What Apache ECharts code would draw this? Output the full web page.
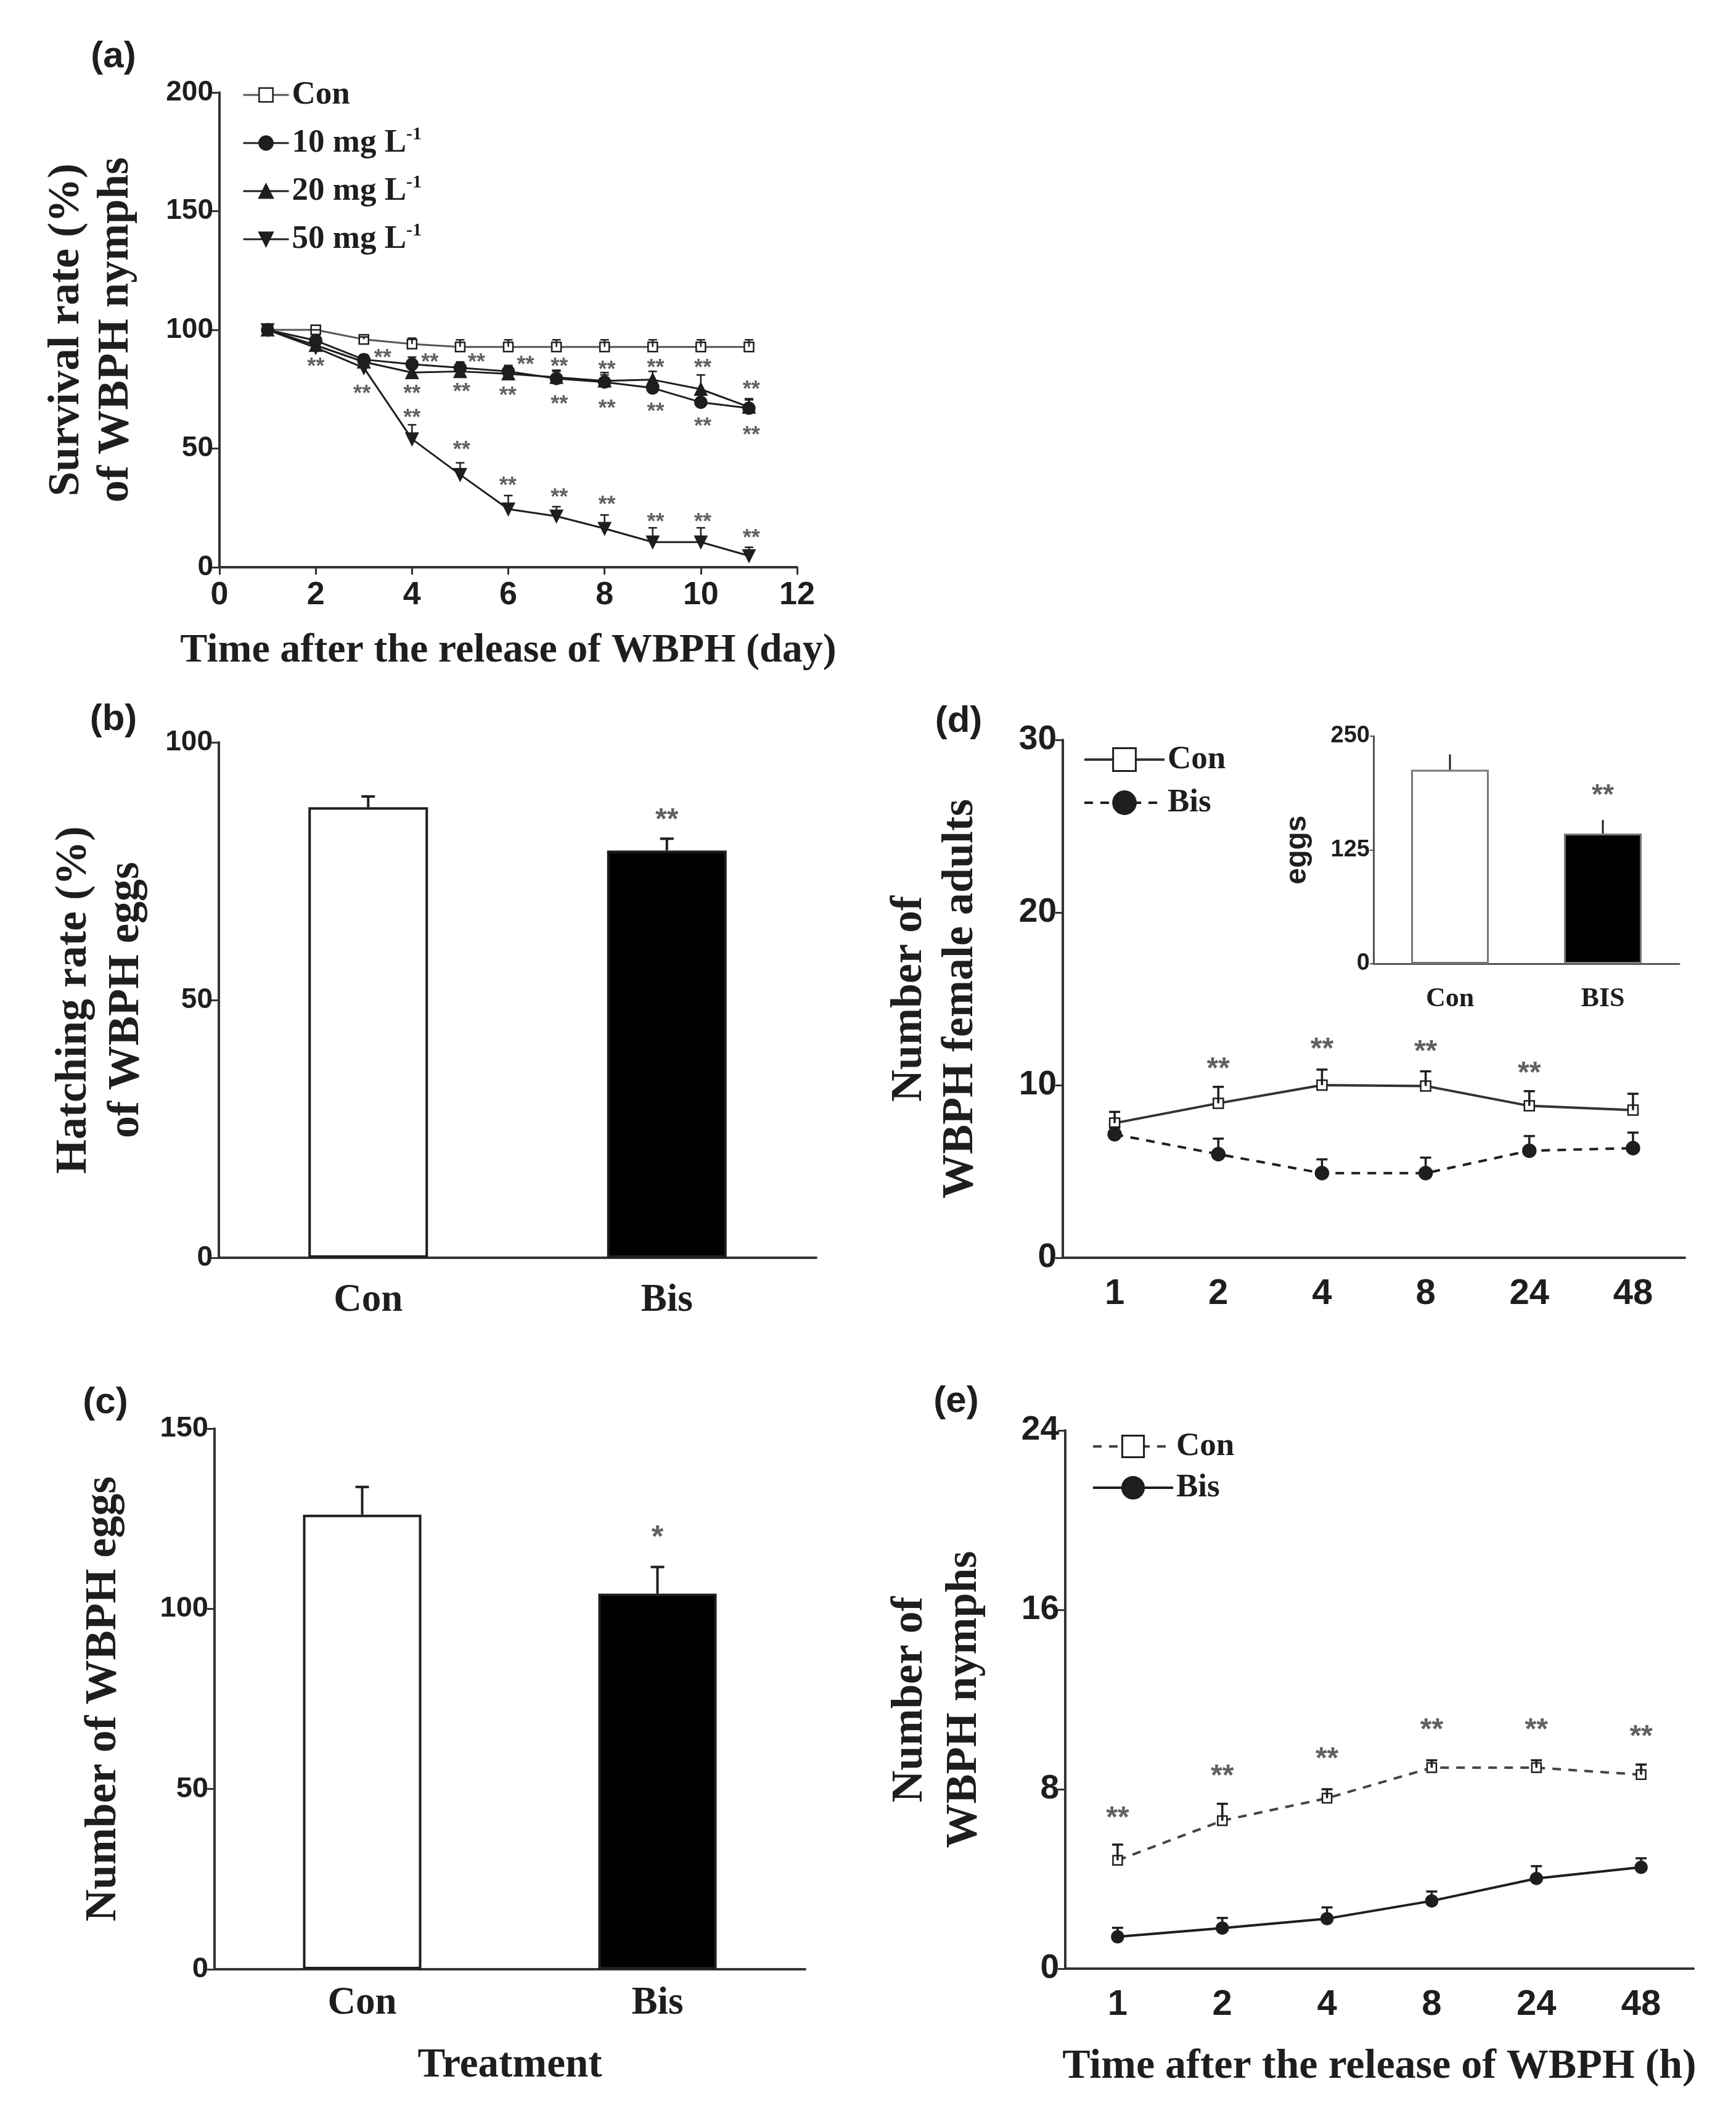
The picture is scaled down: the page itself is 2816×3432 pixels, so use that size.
<!DOCTYPE html>
<html>
<head>
<meta charset="utf-8">
<title>WBPH figure</title>
<script src="https://cdn.jsdelivr.net/npm/echarts@6.0.0/dist/echarts.min.js"></script>
<style>
  html, body { margin: 0; padding: 0; background: #fff; }
  #main { width: 2816px; height: 3432px; }
</style>
</head>
<body>
<div id="main"></div>
<script>
// ---- (a) survival of nymphs, by day
var days = [1, 2, 3, 4, 5, 6, 7, 8, 9, 10, 11];
var survNames = ['Con', '10 mg L', '20 mg L', '50 mg L'];
var survCon = [100, 100, 96, 94, 92.8, 92.8, 92.8, 92.8, 92.8, 92.8, 92.8];
var survConErr = [0, 0, 1, 2.5, 3, 3, 3, 3, 3, 3, 3];
var surv10 = [100, 95.5, 87.5, 85.5, 84, 82.5, 79.5, 78, 75.5, 69.5, 67];
var surv10Err = [0, 2, 2, 3, 2.5, 2.5, 3, 3, 3, 3, 3.5];
var surv20 = [100, 93.5, 86.5, 82, 82.5, 81.5, 80, 78.5, 79, 75, 67.5];
var surv20Err = [0, 2, 3, 3, 3, 3, 3, 3.5, 3.5, 6, 3.5];
var surv50 = [100, 92.5, 84, 54, 39, 24.5, 21.5, 16.3, 10.6, 10.6, 4.8];
var surv50Err = [0, 2, 3, 6, 5, 5.7, 4, 5.7, 6, 6, 3.6];
var survStars = [[2, 86.2], [3.39, 89.7], [2.96, 74.8], [4.37, 88], [4, 74.8], [4, 64.6],
  [5.34, 88], [5.03, 75.6], [5.03, 51], [6.36, 87.1], [5.99, 73.9], [5.99, 36.1],
  [7.06, 86.2], [7.06, 70.4], [7.06, 31.2], [8.05, 84.9], [8.05, 68.6], [8.05, 28.1],
  [9.06, 85.8], [9.06, 67.3], [9.06, 20.7], [10.04, 85.8], [10.04, 61.1], [10.04, 20.7],
  [11.05, 76.5], [11.05, 57.3], [11.05, 14.1]];

// ---- (b) hatching rate
var treatCats = ['Con', 'Bis'];
var hatchRate = [87.4, 79.0];
var hatchErr = [2.1, 2.3];
var hatchStar = [[1, 86.1]];

// ---- (c) eggs
var eggCount = [126.1, 104.2];
var eggErr = [7.7, 7.4];
var eggStar = [[1, 121.4]];

// ---- (d) female adults + inset eggs
var hours = ['1', '2', '4', '8', '24', '48'];
var adultCon = [7.8, 8.95, 10.0, 9.95, 8.8, 8.55];
var adultConErr = [0.65, 0.95, 0.9, 0.85, 0.85, 0.95];
var adultBis = [7.15, 6.0, 4.9, 4.9, 6.2, 6.35];
var adultBisErr = [0.4, 0.9, 0.8, 0.9, 0.85, 0.9];
var adultStars = [[1, 11.27], [2, 12.43], [3, 12.28], [4, 11.03]];
var insetCats = ['Con', 'BIS'];
var insetEggs = [213, 143];
var insetErr = [17, 15];
var insetStar = [[1, 191]];

// ---- (e) nymphs
var nymphCon = [4.83, 6.6, 7.6, 8.96, 8.96, 8.65];
var nymphConErr = [0.7, 0.75, 0.4, 0.33, 0.33, 0.45];
var nymphBis = [1.42, 1.81, 2.23, 3.02, 4.02, 4.52];
var nymphBisErr = [0.4, 0.45, 0.5, 0.42, 0.55, 0.4];
var nymphStars = [[0, 6.98], [1, 8.85], [2, 9.63], [3, 10.9], [4, 10.9], [5, 10.6]];

var SANS = 'Liberation Sans';
var SERIF = 'Liberation Serif';
var INK = '#1e1e1e';

var myChart = echarts.init(document.getElementById('main'));

function errPts(xs, vals, errs) {
  return vals.map(function (v, i) { return [xs ? xs[i] : i, v, v + errs[i]]; });
}

function errorBars(xi, pts, half, w) {
  return {
    type: 'custom', xAxisIndex: xi, yAxisIndex: xi, z: 4, silent: true,
    encode: { x: 0, y: [1, 2] },
    data: pts,
    renderItem: function (params, api) {
      var a = api.coord([api.value(0), api.value(1)]);
      var b = api.coord([api.value(0), api.value(2)]);
      var st = { stroke: INK, lineWidth: w || 3 };
      return {
        type: 'group',
        children: [
          { type: 'line', shape: { x1: a[0], y1: a[1], x2: b[0], y2: b[1] }, style: st },
          { type: 'line', shape: { x1: b[0] - half, y1: b[1], x2: b[0] + half, y2: b[1] }, style: st }
        ]
      };
    }
  };
}

function stars(xi, pts, txt, size) {
  return {
    type: 'scatter', xAxisIndex: xi, yAxisIndex: xi, silent: true, z: 6,
    symbolSize: 1, itemStyle: { color: 'rgba(0,0,0,0)' },
    label: {
      show: true, position: 'inside', formatter: txt, offset: [0, size * 0.22],
      color: '#3a3a3a', fontFamily: SANS, fontWeight: 'bold', fontSize: size
    },
    data: pts
  };
}

function lineSeries(name, xi, pts, symbol, size, fill, dash, rotate, lw, col) {
  return {
    name: name, type: 'line', xAxisIndex: xi, yAxisIndex: xi, z: 3,
    data: pts, symbol: symbol, symbolSize: size, symbolRotate: rotate || 0,
    lineStyle: { color: col || INK, width: lw || 3, type: dash || 'solid' },
    itemStyle: { color: fill, borderColor: INK, borderWidth: 2.5 },
    emphasis: { disabled: true }
  };
}

function catAxis(gi, cats, font, fs, margin, extra) {
  var ax = {
    type: 'category', gridIndex: gi, data: cats, boundaryGap: true,
    axisLine: { lineStyle: { color: '#333', width: 4 } },
    axisTick: { alignWithLabel: true, length: 12, lineStyle: { color: '#333', width: 3 } },
    axisLabel: { fontFamily: font, fontWeight: 'bold', fontSize: fs, color: INK, margin: margin },
    splitLine: { show: false }
  };
  return Object.assign(ax, extra || {});
}

function valAxis(gi, min, max, step, fs, extra) {
  var ax = {
    type: 'value', gridIndex: gi, min: min, max: max, interval: step,
    axisLine: { show: true, lineStyle: { color: '#333', width: 4 } },
    axisTick: { show: true, length: 12, lineStyle: { color: '#333', width: 3 } },
    axisLabel: { fontFamily: SANS, fontWeight: 'bold', fontSize: fs, color: INK, margin: 10 },
    splitLine: { show: false }
  };
  return Object.assign(ax, extra || {});
}

function titleStyle(fs, lh, font) {
  return { fontFamily: font || SERIF, fontWeight: 'bold', fontSize: fs, lineHeight: lh || fs * 1.15, color: INK };
}

function stripName(n) { return n.split(':')[1]; }

var survPts = [survCon, surv10, surv20, surv50].map(function (arr) {
  return arr.map(function (v, i) { return [days[i], v]; });
});

var option = {
  animation: false,
  backgroundColor: '#fff',
  grid: [
    { left: 356, top: 150, width: 937, height: 770 },
    { left: 355, top: 1204, width: 969, height: 836 },
    { left: 348, top: 2317, width: 958, height: 877 },
    { left: 1724, top: 1200, width: 1009, height: 840 },
    { left: 2228, top: 1194, width: 496, height: 369 },
    { left: 1728, top: 2320, width: 1019, height: 873 }
  ],
  xAxis: [
    valAxis(0, 0, 12, 2, 52, {
      axisLabel: { fontFamily: SANS, fontWeight: 'bold', fontSize: 52, color: INK, margin: 20 },
      name: 'Time after the release of WBPH (day)', nameLocation: 'middle', nameGap: 98,
      nameTextStyle: titleStyle(66)
    }),
    catAxis(1, treatCats, SERIF, 63, 38),
    catAxis(2, treatCats, SERIF, 63, 24, {
      name: 'Treatment', nameLocation: 'middle', nameGap: 118, nameTextStyle: titleStyle(67)
    }),
    catAxis(3, hours, SANS, 58, 30),
    catAxis(4, insetCats, SERIF, 44, 36, {
      axisLine: { lineStyle: { color: '#555', width: 3 } },
      axisTick: { alignWithLabel: true, length: 8, lineStyle: { color: '#555', width: 2 } }
    }),
    catAxis(5, hours, SANS, 58, 30, {
      name: 'Time after the release of WBPH (h)', nameLocation: 'middle', nameGap: 120,
      nameTextStyle: titleStyle(68)
    })
  ],
  yAxis: [
    valAxis(0, 0, 200, 50, 46, {
      name: 'Survival rate (%)\nof WBPH nymphs', nameLocation: 'middle', nameGap: 128,
      nameTextStyle: titleStyle(72, 80)
    }),
    valAxis(1, 0, 100, 50, 46, {
      name: 'Hatching rate (%)\nof WBPH eggs', nameLocation: 'middle', nameGap: 107,
      nameTextStyle: titleStyle(72, 85)
    }),
    valAxis(2, 0, 150, 50, 47, {
      name: 'Number of WBPH eggs', nameLocation: 'middle', nameGap: 140,
      nameTextStyle: titleStyle(72, 80)
    }),
    valAxis(3, 0, 30, 10, 55, {
      name: 'Number of\nWBPH female adults', nameLocation: 'middle', nameGap: 124,
      nameTextStyle: titleStyle(72, 83)
    }),
    valAxis(4, 0, 250, 125, 38, {
      axisLine: { show: true, lineStyle: { color: '#555', width: 3 } },
      axisTick: { show: true, length: 6, lineStyle: { color: '#555', width: 2 } },
      axisLabel: { fontFamily: SANS, fontWeight: 'bold', fontSize: 38, color: INK, margin: 6 },
      name: 'eggs', nameLocation: 'middle', nameGap: 97,
      nameTextStyle: titleStyle(48, 52, SANS)
    }),
    valAxis(5, 0, 24, 8, 55, {
      name: 'Number of\nWBPH nymphs', nameLocation: 'middle', nameGap: 120,
      nameTextStyle: titleStyle(72, 88)
    })
  ],
  legend: [
    {
      data: survNames.map(function (n) { return 'a:' + n; }),
      orient: 'vertical', left: 388, top: 120, itemWidth: 74, itemHeight: 28, itemGap: 20,
      selectedMode: false, lineStyle: { width: 3 }, itemStyle: { borderWidth: 2.5 },
      formatter: function (n) {
        var s = stripName(n);
        return s === 'Con' ? s : s + '{sup|-1}';
      },
      textStyle: {
        fontFamily: SERIF, fontWeight: 'bold', fontSize: 53, color: INK, lineHeight: 58,
        rich: { sup: { fontFamily: SERIF, fontWeight: 'bold', fontSize: 30, verticalAlign: 'top', lineHeight: 58 } }
      }
    },
    {
      data: ['d:Con', 'd:Bis'],
      orient: 'vertical', left: 1752, top: 1198, itemWidth: 130, itemHeight: 46, itemGap: 12,
      selectedMode: false, lineStyle: { width: 4 }, itemStyle: { borderWidth: 3 },
      formatter: stripName,
      textStyle: { fontFamily: SERIF, fontWeight: 'bold', fontSize: 53, color: INK, lineHeight: 58 }
    },
    {
      data: ['e:Con', 'e:Bis'],
      orient: 'vertical', left: 1766, top: 2312, itemWidth: 130, itemHeight: 44, itemGap: 9,
      selectedMode: false, lineStyle: { width: 4 }, itemStyle: { borderWidth: 3 },
      formatter: stripName,
      textStyle: { fontFamily: SERIF, fontWeight: 'bold', fontSize: 53, color: INK, lineHeight: 58 }
    }
  ],
  graphic: [
    { type: 'text', style: { text: '(a)', x: 184, y: 92, font: 'bold 60px Liberation Sans', fill: INK, textAlign: 'center', textVerticalAlign: 'middle' } },
    { type: 'text', style: { text: '(b)', x: 184, y: 1167, font: 'bold 60px Liberation Sans', fill: INK, textAlign: 'center', textVerticalAlign: 'middle' } },
    { type: 'text', style: { text: '(c)', x: 171, y: 2275, font: 'bold 60px Liberation Sans', fill: INK, textAlign: 'center', textVerticalAlign: 'middle' } },
    { type: 'text', style: { text: '(d)', x: 1555, y: 1170, font: 'bold 60px Liberation Sans', fill: INK, textAlign: 'center', textVerticalAlign: 'middle' } },
    { type: 'text', style: { text: '(e)', x: 1551, y: 2273, font: 'bold 60px Liberation Sans', fill: INK, textAlign: 'center', textVerticalAlign: 'middle' } }
  ],
  series: [
    // (a)
    lineSeries('a:Con', 0, survPts[0], 'rect', 15, '#fff', 'solid', 0, 3, '#555'),
    lineSeries('a:10 mg L', 0, survPts[1], 'circle', 19, INK, 'solid', 0, 3),
    lineSeries('a:20 mg L', 0, survPts[2], 'triangle', 19, INK, 'solid', 0, 3),
    lineSeries('a:50 mg L', 0, survPts[3], 'triangle', 19, INK, 'solid', 180, 3),
    errorBars(0, errPts(days, survCon, survConErr), 7, 2.5),
    errorBars(0, errPts(days, surv10, surv10Err), 7, 2.5),
    errorBars(0, errPts(days, surv20, surv20Err), 7, 2.5),
    errorBars(0, errPts(days, surv50, surv50Err), 7, 2.5),
    stars(0, survStars, '**', 36),

    // (b)
    {
      type: 'bar', xAxisIndex: 1, yAxisIndex: 1, barWidth: 194, z: 2, silent: true,
      data: hatchRate,
      itemStyle: {
        color: function (p) { return p.dataIndex === 0 ? '#fff' : '#000'; },
        borderColor: INK, borderWidth: 4
      }
    },
    errorBars(1, errPts(null, hatchRate, hatchErr), 11, 4),
    stars(1, hatchStar, '**', 48),

    // (c)
    {
      type: 'bar', xAxisIndex: 2, yAxisIndex: 2, barWidth: 192, z: 2, silent: true,
      data: eggCount,
      itemStyle: {
        color: function (p) { return p.dataIndex === 0 ? '#fff' : '#000'; },
        borderColor: INK, borderWidth: 4
      }
    },
    errorBars(2, errPts(null, eggCount, eggErr), 11, 4),
    stars(2, eggStar, '*', 50),

    // (d)
    lineSeries('d:Con', 3, adultCon, 'rect', 16, '#fff', 'solid', 0, 4, '#333'),
    lineSeries('d:Bis', 3, adultBis, 'circle', 21, INK, [14, 12], 0, 4),
    errorBars(3, errPts(null, adultCon, adultConErr), 9, 3.5),
    errorBars(3, errPts(null, adultBis, adultBisErr), 9, 3.5),
    stars(3, adultStars, '**', 48),

    // inset
    {
      type: 'bar', xAxisIndex: 4, yAxisIndex: 4, barWidth: 126, z: 2, silent: true,
      data: insetEggs,
      itemStyle: {
        color: function (p) { return p.dataIndex === 0 ? '#fff' : '#000'; },
        borderColor: '#777', borderWidth: 3
      }
    },
    errorBars(4, errPts(null, insetEggs, insetErr), 0, 3),
    stars(4, insetStar, '**', 46),

    // (e)
    lineSeries('e:Con', 5, nymphCon, 'rect', 15, '#fff', [14, 12], 0, 4, '#444'),
    lineSeries('e:Bis', 5, nymphBis, 'circle', 19, INK, 'solid', 0, 4),
    errorBars(5, errPts(null, nymphCon, nymphConErr), 9, 3.5),
    errorBars(5, errPts(null, nymphBis, nymphBisErr), 9, 3.5),
    stars(5, nymphStars, '**', 48)
  ]
};

myChart.setOption(option);
</script>
</body>
</html>
